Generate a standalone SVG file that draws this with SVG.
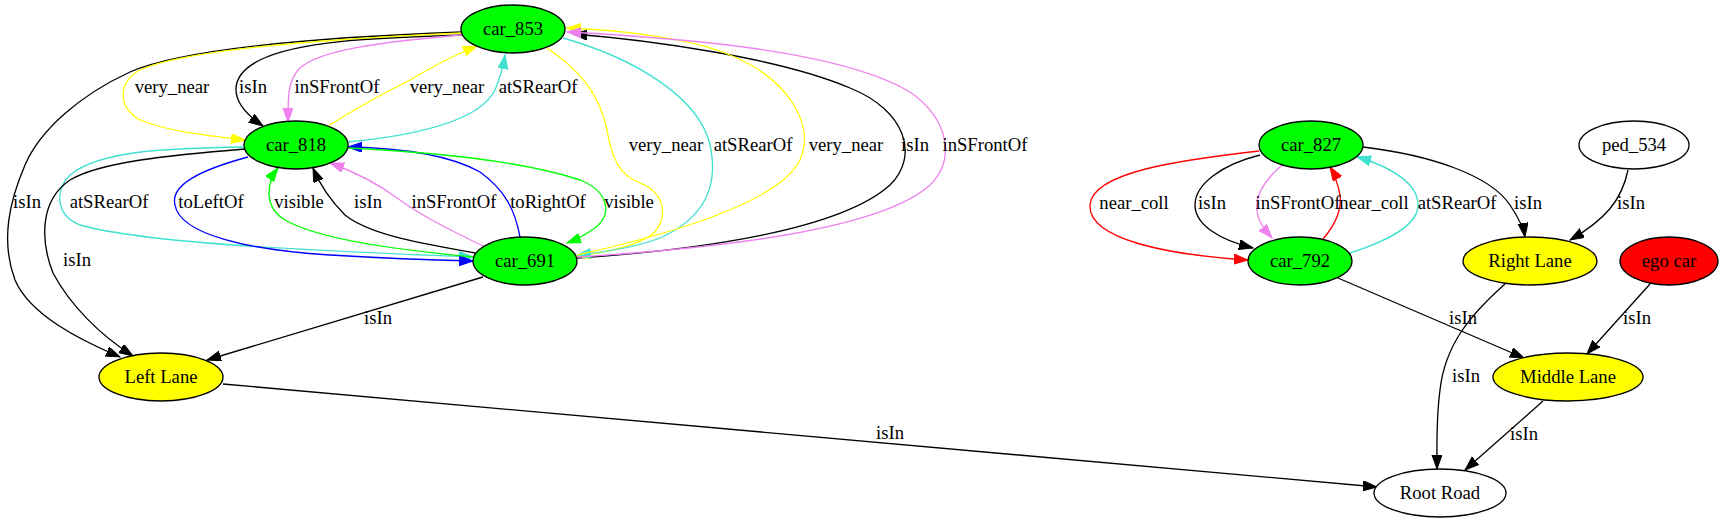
<svg xmlns="http://www.w3.org/2000/svg" width="1723" height="523" viewBox="0 0 1723 523">
<style>
text{font-family:"Liberation Serif","Times New Roman",serif;font-size:18.67px;fill:#000;text-anchor:middle}
.n ellipse{stroke:#000;stroke-width:1.33}
.e path{fill:none;stroke-width:1.33}
.k{stroke:#000}.y{stroke:#ffff00}.v{stroke:#ee82ee}.t{stroke:#40e0d0}.b{stroke:#0000ff}.g{stroke:#00ff00}.r{stroke:#ff0000}
</style>
<defs>
<marker id="ak" markerUnits="userSpaceOnUse" markerWidth="15" markerHeight="11" refX="14" refY="5" orient="auto"><path d="M0,0L14,5L0,10z" fill="#000" stroke="#000" stroke-width="1"/></marker>
<marker id="ay" markerUnits="userSpaceOnUse" markerWidth="15" markerHeight="11" refX="14" refY="5" orient="auto"><path d="M0,0L14,5L0,10z" fill="#ffff00" stroke="#ffff00" stroke-width="1"/></marker>
<marker id="av" markerUnits="userSpaceOnUse" markerWidth="15" markerHeight="11" refX="14" refY="5" orient="auto"><path d="M0,0L14,5L0,10z" fill="#ee82ee" stroke="#ee82ee" stroke-width="1"/></marker>
<marker id="at" markerUnits="userSpaceOnUse" markerWidth="15" markerHeight="11" refX="14" refY="5" orient="auto"><path d="M0,0L14,5L0,10z" fill="#40e0d0" stroke="#40e0d0" stroke-width="1"/></marker>
<marker id="ab" markerUnits="userSpaceOnUse" markerWidth="15" markerHeight="11" refX="14" refY="5" orient="auto"><path d="M0,0L14,5L0,10z" fill="#0000ff" stroke="#0000ff" stroke-width="1"/></marker>
<marker id="ag" markerUnits="userSpaceOnUse" markerWidth="15" markerHeight="11" refX="14" refY="5" orient="auto"><path d="M0,0L14,5L0,10z" fill="#00ff00" stroke="#00ff00" stroke-width="1"/></marker>
<marker id="ar" markerUnits="userSpaceOnUse" markerWidth="15" markerHeight="11" refX="14" refY="5" orient="auto"><path d="M0,0L14,5L0,10z" fill="#ff0000" stroke="#ff0000" stroke-width="1"/></marker>
</defs>
<rect width="1723" height="523" fill="#fff"/>
<g id="edges" class="e">
<path class="k" marker-end="url(#ak)" d="M462,32C300,38 180,50 130,72C80,95 40,130 25,165C10,200 0,240 15,280C30,315 80,340 120,357"/>
<path class="y" marker-end="url(#ay)" d="M462,33C300,40 180,52 140,70C120,80 115,105 140,120C170,132 210,136 245,140"/>
<path class="k" marker-end="url(#ak)" d="M462,35C380,38 300,40 260,60C230,75 225,100 263,126"/>
<path class="v" marker-end="url(#av)" d="M462,35C380,42 320,50 300,68C288,80 288,95 288,122"/>
<path class="y" marker-end="url(#ay)" d="M328,126C360,106 390,90 410,80C430,68 450,57 477,46"/>
<path class="t" marker-end="url(#at)" d="M348,142C420,135 480,120 495,90C500,78 503,68 505,55"/>
<path class="t" marker-end="url(#at)" d="M245,147C170,148 100,150 70,175C55,190 55,215 80,225C150,245 350,252 473,257"/>
<path class="k" marker-end="url(#ak)" d="M245,149C170,155 100,162 70,180C40,200 40,240 53,273C70,305 100,335 133,356"/>
<path class="b" marker-end="url(#ab)" d="M248,157C200,170 170,185 175,205C180,235 250,250 330,255C380,258 430,260 473,261"/>
<path class="g" marker-end="url(#ag)" d="M473,257C400,250 320,240 285,220C265,208 265,185 278,168"/>
<path class="k" marker-end="url(#ak)" d="M475,253C420,243 370,235 345,215C330,200 320,185 313,168"/>
<path class="v" marker-end="url(#av)" d="M485,247C450,230 420,215 400,200C380,185 355,172 330,163"/>
<path class="b" marker-end="url(#ab)" d="M520,237C515,210 505,190 480,172C450,155 400,148 348,147"/>
<path class="g" marker-end="url(#ag)" d="M348,148C430,152 520,160 580,180C610,192 612,215 595,228C585,235 575,240 567,243"/>
<path class="k" marker-end="url(#ak)" d="M577,258C700,250 840,230 890,185C920,155 905,110 850,88C780,58 650,40 573,34"/>
<path class="y" marker-end="url(#ay)" d="M547,48C580,70 600,95 607,130C612,160 620,175 640,183C665,193 668,215 655,232C640,245 610,252 577,256"/>
<path class="t" marker-end="url(#at)" d="M563,38C640,60 700,100 710,145C720,190 700,220 660,238C635,248 605,252 577,255"/>
<path class="y" marker-end="url(#ay)" d="M577,255C680,232 780,200 800,160C815,125 790,80 730,55C690,38 620,30 567,28"/>
<path class="v" marker-end="url(#av)" d="M577,257C720,248 880,230 930,185C955,160 950,120 910,92C840,50 680,38 567,32"/>
<path class="k" marker-end="url(#ak)" d="M483,277L207,360"/>
<path class="k" marker-end="url(#ak)" d="M223,384L1377,487"/>
<path class="r" marker-end="url(#ar)" d="M1259,151C1180,160 1092,172 1090,205C1088,240 1170,255 1248,260"/>
<path class="k" marker-end="url(#ak)" d="M1260,155C1220,165 1195,185 1195,205C1195,225 1220,240 1253,248"/>
<path class="v" marker-end="url(#av)" d="M1282,165C1265,180 1255,195 1257,210C1258,222 1265,230 1272,238"/>
<path class="r" marker-end="url(#ar)" d="M1323,239C1335,225 1342,210 1340,195C1338,185 1335,175 1330,167"/>
<path class="t" marker-end="url(#at)" d="M1350,253C1390,240 1418,225 1418,205C1418,185 1395,168 1357,157"/>
<path class="k" marker-end="url(#ak)" d="M1363,147C1430,155 1490,175 1510,205C1520,220 1524,230 1525,237"/>
<path class="k" marker-end="url(#ak)" d="M1628,170C1622,200 1605,220 1570,240"/>
<path class="k" marker-end="url(#ak)" d="M1338,278L1524,358"/>
<path class="k" marker-end="url(#ak)" d="M1505,284C1470,315 1445,345 1440,390C1436,420 1437,445 1437,469"/>
<path class="k" marker-end="url(#ak)" d="M1650,284L1587,354"/>
<path class="k" marker-end="url(#ak)" d="M1543,401L1465,470"/>
</g>
<g id="edge-labels">
<text x="172" y="93">very_near</text>
<text x="253" y="93">isIn</text>
<text x="337" y="93">inSFrontOf</text>
<text x="447" y="93">very_near</text>
<text x="538" y="93">atSRearOf</text>
<text x="666" y="151">very_near</text>
<text x="753" y="151">atSRearOf</text>
<text x="846" y="151">very_near</text>
<text x="915" y="151">isIn</text>
<text x="985" y="151">inSFrontOf</text>
<text x="27" y="208">isIn</text>
<text x="109" y="208">atSRearOf</text>
<text x="211" y="208">toLeftOf</text>
<text x="299" y="208">visible</text>
<text x="368" y="208">isIn</text>
<text x="454" y="208">inSFrontOf</text>
<text x="548" y="208">toRightOf</text>
<text x="629" y="208">visible</text>
<text x="77" y="266">isIn</text>
<text x="378" y="324">isIn</text>
<text x="890" y="439">isIn</text>
<text x="1134" y="209">near_coll</text>
<text x="1212" y="209">isIn</text>
<text x="1298" y="209">inSFrontOf</text>
<text x="1374" y="209">near_coll</text>
<text x="1457" y="209">atSRearOf</text>
<text x="1528" y="209">isIn</text>
<text x="1631" y="209">isIn</text>
<text x="1463" y="324">isIn</text>
<text x="1637" y="324">isIn</text>
<text x="1466" y="382">isIn</text>
<text x="1524" y="440">isIn</text>
</g>
<g id="car_853" class="n"><ellipse cx="513" cy="29" rx="52" ry="24" fill="#00ff00"/><text x="513" y="35">car_853</text></g>
<g id="car_818" class="n"><ellipse cx="296" cy="145" rx="52" ry="24" fill="#00ff00"/><text x="296" y="151">car_818</text></g>
<g id="car_691" class="n"><ellipse cx="525" cy="261" rx="52" ry="24" fill="#00ff00"/><text x="525" y="267">car_691</text></g>
<g id="left_lane" class="n"><ellipse cx="161" cy="377" rx="62" ry="24" fill="#ffff00"/><text x="161" y="383">Left Lane</text></g>
<g id="car_827" class="n"><ellipse cx="1311" cy="145" rx="52" ry="24" fill="#00ff00"/><text x="1311" y="151">car_827</text></g>
<g id="car_792" class="n"><ellipse cx="1300" cy="261" rx="52" ry="24" fill="#00ff00"/><text x="1300" y="267">car_792</text></g>
<g id="ped_534" class="n"><ellipse cx="1634" cy="145" rx="55" ry="24" fill="#fff"/><text x="1634" y="151">ped_534</text></g>
<g id="right_lane" class="n"><ellipse cx="1530" cy="261" rx="67" ry="24" fill="#ffff00"/><text x="1530" y="267">Right Lane</text></g>
<g id="ego_car" class="n"><ellipse cx="1669" cy="261" rx="49" ry="24" fill="#ff0000"/><text x="1669" y="267">ego car</text></g>
<g id="middle_lane" class="n"><ellipse cx="1568" cy="377" rx="75" ry="24" fill="#ffff00"/><text x="1568" y="383">Middle Lane</text></g>
<g id="root_road" class="n"><ellipse cx="1440" cy="493" rx="66" ry="24" fill="#fff"/><text x="1440" y="499">Root Road</text></g>
</svg>
